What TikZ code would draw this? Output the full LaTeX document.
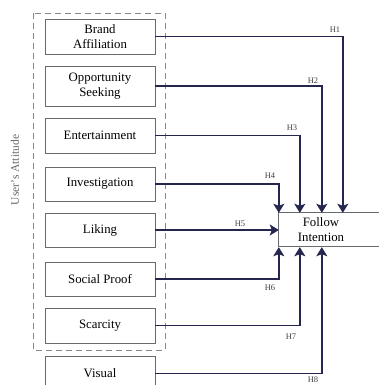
\documentclass[tikz,border=0pt]{standalone}
\usepackage{fontspec}
\setmainfont{Liberation Serif}
\usetikzlibrary{arrows.meta,calc}
\definecolor{navy}{RGB}{36,38,78}
\definecolor{boxgray}{RGB}{105,105,112}
\begin{document}
\begin{tikzpicture}[x=1pt,y=-1pt,
  factor/.style={draw=boxgray, line width=0.9pt, minimum width=110pt,
    minimum height=35pt, align=center, inner sep=2pt,
    font=\fontsize{12.8}{15}\selectfont},
  target/.style={minimum width=84pt, minimum height=34pt, align=center,
    inner sep=2pt, font=\fontsize{12.8}{15}\selectfont},
  link/.style={draw=navy, line width=1.6pt},
  arr/.style={link, -{Stealth[length=9pt,width=11pt,inset=2pt]}},
  hyp/.style={font=\fontsize{8.5}{9}\selectfont, text=black!75, inner sep=1pt}
]
\useasboundingbox (0,0) rectangle (379,385);

% grouping frame for the attitude factors
\draw[boxgray!80, line width=0.8pt, dash pattern=on 6pt off 4pt]
  (33,13) rectangle (165,350);
\node[rotate=90, text=black!60, font=\fontsize{11.5}{13}\selectfont] (ua) at (15,170) {User's Attitude};

% factor boxes
\node[factor] (ba) at (100,36.5) {Brand\\Affiliation};
\node[factor, minimum height=40pt] (os) at (100,86) {Opportunity\\Seeking};
\node[factor] (en) at (100,135.5) {Entertainment};
\node[factor, minimum height=34pt] (iv) at (100,184) {Investigation};
\node[factor, minimum height=34pt] (lk) at (100,230) {Liking};
\node[factor, minimum height=34pt] (sp) at (100,279) {Social Proof};
\node[factor] (sc) at (100,325.5) {Scarcity};
\node[factor] (vi) at (100,373.5) {Visual};

% outcome box
\node[target] (fi) at (321,230) {Follow\\Intention};
\draw[boxgray, line width=0.9pt] (fi.north west) rectangle ++(110pt,-34pt);

% hypothesised paths
\draw[arr] (ba.east) -| ($(fi.north west)+(64pt,0)$);
\draw[arr] (os.east) -| ($(fi.north west)+(43pt,0)$);
\draw[arr] (en.east) -| ($(fi.north west)+(21pt,0)$);
\draw[arr] (iv.east) -| (fi.north west);
\draw[arr] (lk.east) -- (lk.east -| fi.west);
\draw[arr] (sp.east) -| (fi.south west);
\draw[arr] (sc.east) -| ($(fi.south west)+(21pt,0)$);
\draw[arr] (vi.east) -| ($(fi.south west)+(43pt,0)$);

% path labels
\node[hyp] (h1) at (335,30) {H1};
\node[hyp] (h2) at (313,81) {H2};
\node[hyp] (h3) at (292,128) {H3};
\node[hyp] (h4) at (270,176) {H4};
\node[hyp] (h5) at (240,224) {H5};
\node[hyp] (h6) at (270,288) {H6};
\node[hyp] (h7) at (291,337) {H7};
\node[hyp] (h8) at (313,379.5) {H8};
\end{tikzpicture}
\end{document}
